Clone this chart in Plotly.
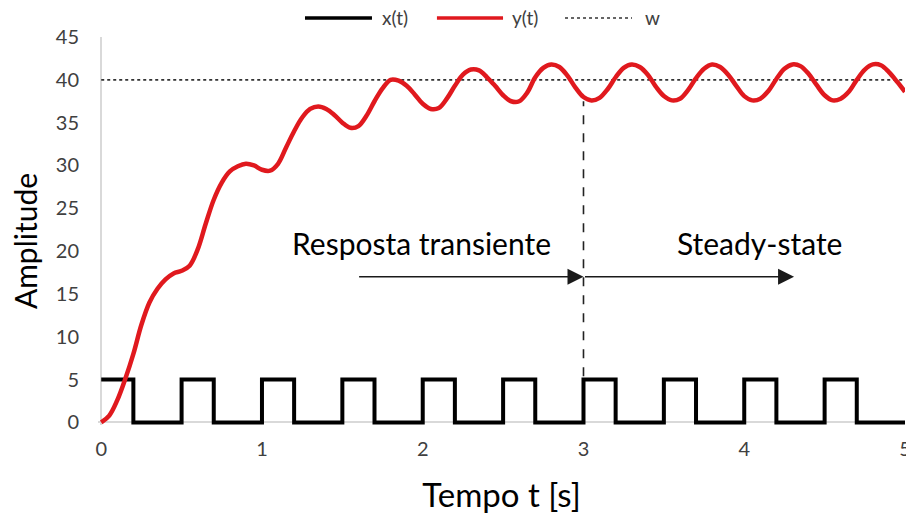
import plotly.graph_objects as go

# ---------------- data ----------------
t_y = [round(i * 0.05, 2) for i in range(101)]
y_vals = [
    0.0, 0.8, 2.6, 5.1, 8.0, 11.4, 14.0, 15.6, 16.7, 17.4,
    17.7, 18.3, 20.2, 23.2, 26.0, 28.0, 29.3, 29.9, 30.2, 30.0,
    29.5, 29.4, 30.2, 32.1, 34.0, 35.6, 36.6, 36.9, 36.6, 35.9,
    35.0, 34.4, 34.6, 35.8, 37.5, 39.0, 40.0, 39.9, 39.3, 38.3,
    37.2, 36.6, 36.7, 37.8, 39.3, 40.6, 41.2, 41.1, 40.3, 39.3,
    38.2, 37.5, 37.5, 38.5, 40.3, 41.4, 41.8, 41.5, 40.5, 39.1,
    38.0, 37.6, 37.9, 38.9, 40.3, 41.4, 41.8, 41.5, 40.6, 39.2,
    38.1, 37.6, 37.8, 38.8, 40.2, 41.3, 41.8, 41.5, 40.6, 39.3,
    38.1, 37.6, 37.8, 38.7, 40.1, 41.3, 41.8, 41.6, 40.7, 39.4,
    38.2, 37.6, 37.8, 38.6, 40.0, 41.2, 41.8, 41.7, 40.9, 39.8,
    38.6,
]

# square-wave input x(t): edge times and levels (step, hold-until-next)
t_x = [0.0, 0.2, 0.5, 0.7, 1.0, 1.2, 1.5, 1.7, 2.0, 2.2, 2.5, 2.7,
       3.0, 3.2, 3.5, 3.7, 4.0, 4.2, 4.5, 4.7, 5.0]
x_vals = [5, 0, 5, 0, 5, 0, 5, 0, 5, 0, 5, 0, 5, 0, 5, 0, 5, 0, 5, 0, 0]

# setpoint w
t_w = [0.0, 5.0]
w_vals = [40, 40]

x_ticks = [0, 1, 2, 3, 4, 5]
y_ticks = [0, 5, 10, 15, 20, 25, 30, 35, 40, 45]

legend_names = ["x(t)", "y(t)", "w"]
label_transient = "Resposta transiente"
label_steady = "Steady-state"
x_title = "Tempo t [s]"
y_title = "Amplitude"

# annotation anchors (data units)
t_switch = 3.0
t_arrow_start = 1.595
t_arrow_end = 4.31
y_arrow = 17.0
y_label = 21.0
y_dash_top = 37.5
y_dash_bottom = 5.4

FONT = "Lato"
RED = "#e0191e"
TICK_COLOR = "#404040"

fig = go.Figure()
fig.add_trace(go.Scatter(x=t_w, y=w_vals, mode="lines", name=legend_names[2],
                         line=dict(color="#333333", width=1.6, dash="dot"),
                         showlegend=False))
fig.add_trace(go.Scatter(x=t_x, y=x_vals, mode="lines", name=legend_names[0],
                         line=dict(color="black", width=4, shape="hv"),
                         showlegend=False))
fig.add_trace(go.Scatter(x=t_y, y=y_vals, mode="lines", name=legend_names[1],
                         line=dict(color=RED, width=4.5, shape="spline", smoothing=1),
                         showlegend=False))

# dashed divider
fig.add_shape(type="line", xref="x", yref="y", x0=t_switch, x1=t_switch,
              y0=y_dash_bottom, y1=y_dash_top,
              line=dict(color="#222222", width=1.6, dash="dash"))

# arrows
for xa, xb in [(t_arrow_start, t_switch), (t_switch, t_arrow_end)]:
    fig.add_annotation(x=xb, y=y_arrow, ax=xa, ay=y_arrow, xref="x", yref="y",
                       axref="x", ayref="y", text="", showarrow=True,
                       arrowhead=2, arrowsize=2.0, arrowwidth=1.6,
                       arrowcolor="#1a1a1a", standoff=0, startstandoff=0)

fig.add_annotation(x=1.99, y=y_label, xref="x", yref="y", text=label_transient,
                   showarrow=False, font=dict(family=FONT, size=30, color="black"))
fig.add_annotation(x=4.095, y=y_label, xref="x", yref="y", text=label_steady,
                   showarrow=False, font=dict(family=FONT, size=30, color="black"))

# y-axis title (placed like the original, slightly below the plot centre)
fig.add_annotation(x=-0.0905, y=0.474, xref="paper", yref="paper", text=y_title,
                   textangle=-90, showarrow=False, xanchor="center", yanchor="middle",
                   font=dict(family=FONT, size=30, color="black"))

# manual legend (long line samples like the original)
leg_y = 1.049
leg_items = [
    (0.2565, 0.3395, 0.3494, dict(color="black", width=3.5)),
    (0.4200, 0.5019, 0.5105, dict(color=RED, width=3.5)),
    (0.5787, 0.6617, 0.6753, dict(color="#333333", width=1.6, dash="dot")),
]
for (xa, xb, xt, ln), nm in zip(leg_items, legend_names):
    fig.add_shape(type="line", xref="paper", yref="paper", x0=xa, x1=xb,
                  y0=leg_y, y1=leg_y, line=ln)
    fig.add_annotation(x=xt, y=leg_y, xref="paper", yref="paper", text=nm,
                       xanchor="left", yanchor="middle", showarrow=False,
                       font=dict(family=FONT, size=19, color=TICK_COLOR))

fig.update_layout(
    width=906, height=517,
    margin=dict(l=98, r=1, t=37, b=92),
    paper_bgcolor="white", plot_bgcolor="white",
    font=dict(family=FONT, color=TICK_COLOR),
    showlegend=False,
)
fig.update_xaxes(range=[-0.02, 5.0], tickvals=x_ticks, showgrid=False,
                 showline=False, zeroline=True, zerolinecolor="#d9d9d9",
                 zerolinewidth=2, ticks="", ticklabelstandoff=10,
                 ticklabeloverflow="allow", automargin=False,
                 tickfont=dict(family=FONT, size=20, color=TICK_COLOR),
                 title=dict(text=x_title, standoff=24,
                            font=dict(family=FONT, size=33, color="black")))
fig.update_yaxes(range=[-0.3, 45], tickvals=y_ticks, showgrid=False,
                 showline=False, zeroline=True, zerolinecolor="#d9d9d9",
                 zerolinewidth=2, ticks="", ticklabelstandoff=18,
                 automargin=False,
                 tickfont=dict(family=FONT, size=20, color=TICK_COLOR))

fig.write_html("out.html")
